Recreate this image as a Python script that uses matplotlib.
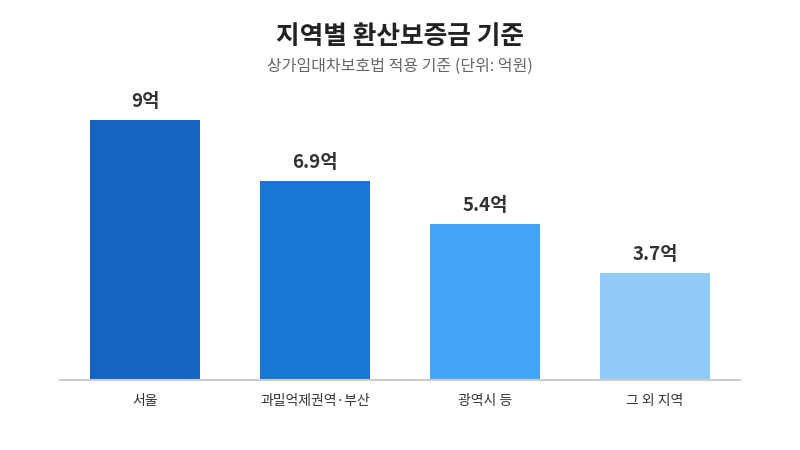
import matplotlib
matplotlib.use('Agg')
import matplotlib.pyplot as plt

plt.rcParams['font.family'] = ['Noto Sans CJK KR', 'DejaVu Sans']

categories = ['서울', '과밀억제권역·부산', '광역시 등', '그 외 지역']
values = [9, 6.9, 5.4, 3.7]
value_labels = ['9억', '6.9억', '5.4억', '3.7억']
colors = ['#1565C0', '#1976D2', '#42A5F5', '#90CAF9']

fig = plt.figure(figsize=(8, 4.5), dpi=100)
ax = fig.add_axes([60 / 800, 1 - 380 / 450, 680 / 800, 289 / 450])

x = range(len(categories))
ax.bar(x, values, width=110 / 170, color=colors, zorder=2)
for i, (v, lab) in enumerate(zip(values, value_labels)):
    ax.text(i, v + 0.3, lab, ha='center', va='bottom', fontsize=13.5,
            fontweight='bold', color='#333333')

ax.set_xlim(-0.5, 3.5)
ax.set_ylim(0, 10)
ax.set_xticks(list(x))
ax.set_xticklabels(categories, fontsize=10, color='#333333')
ax.tick_params(axis='x', length=0, pad=10)
ax.set_yticks([])
for s in ['top', 'right', 'left']:
    ax.spines[s].set_visible(False)
ax.spines['bottom'].set_color('#cccccc')
ax.spines['bottom'].set_linewidth(1.5)

fig.text(0.5, 1 - 37 / 450, '지역별 환산보증금 기준', ha='center', va='center',
         fontsize=18.5, fontweight='bold', color='#222222')
fig.text(0.5, 1 - 66 / 450, '상가임대차보호법 적용 기준 (단위: 억원)', ha='center',
         va='center', fontsize=11.5, color='#666666')

fig.savefig('out.png', dpi=100)
